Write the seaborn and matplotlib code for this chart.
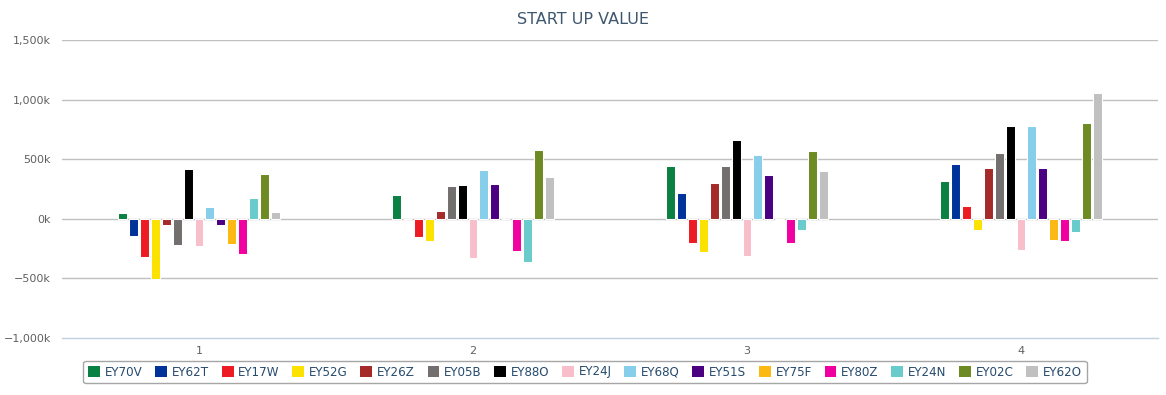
import matplotlib
matplotlib.use("Agg")
import matplotlib.pyplot as plt
import matplotlib.ticker as mticker
from matplotlib.patches import Patch
import seaborn as sns
import pandas as pd

categories = ["1", "2", "3", "4"]
series = ["EY70V", "EY62T", "EY17W", "EY52G", "EY26Z", "EY05B", "EY88O", "EY24J",
          "EY68Q", "EY51S", "EY75F", "EY80Z", "EY24N", "EY02C", "EY62O"]
colors = ["#0B8043", "#00339A", "#ED1C24", "#FBE200", "#A52A2A", "#736F6E", "#000000",
          "#F8BFCB", "#87CEEB", "#4B0082", "#FDB913", "#F000A0", "#69CBCB", "#6E8B23",
          "#C0C0C0"]

# values in thousands
EY70V = [50, 201, 444, 318]
EY62T = [-142, 0, 218, 461]
EY17W = [-317, -151, -201, 109]
EY52G = [-506, -184, -276, -92]
EY26Z = [-50, 67, 301, 427]
EY05B = [-217, 276, 444, 553]
EY88O = [417, 285, 662, 779]
EY24J = [-225, -327, -310, -258]
EY68Q = [100, 410, 536, 779]
EY51S = [-50, 293, 369, 427]
EY75F = [-208, 0, -10, -175]
EY80Z = [-292, -268, -201, -183]
EY24N = [175, -360, -92, -108]
EY02C = [375, 578, 570, 804]
EY62O = [58, 352, 402, 1056]

values = [EY70V, EY62T, EY17W, EY52G, EY26Z, EY05B, EY88O, EY24J,
          EY68Q, EY51S, EY75F, EY80Z, EY24N, EY02C, EY62O]

rows = []
for name, vals in zip(series, values):
    for c, v in zip(categories, vals):
        rows.append({"cat": c, "series": name, "value": v})
df = pd.DataFrame(rows)

sns.set_style("white")
plt.rcParams["font.family"] = ["DejaVu Sans"]

fig = plt.figure(figsize=(11.66, 3.95), dpi=100)
ax = fig.add_axes([62 / 1166, 1 - 338 / 395, (1158 - 62) / 1166, (338 - 40) / 395])

sns.barplot(data=df, x="cat", y="value", hue="series", order=categories,
            hue_order=series, palette=colors, saturation=1, width=0.6, gap=0.18,
            edgecolor="white", linewidth=0.75, legend=False, ax=ax, zorder=3)

ax.set_xlim(-0.5, 3.5)
ax.set_ylim(-1000, 1500)
ax.set_yticks([-1000, -500, 0, 500, 1000, 1500])
ax.yaxis.set_major_formatter(mticker.FuncFormatter(
    lambda v, p: ("\u2212" if v < 0 else "") + f"{abs(int(v)):,}k"))
for y in [-500, 0, 500, 1000, 1500]:
    ax.axhline(y, color="#C0C0C0", linewidth=1.0, zorder=1)

for s in ["top", "right", "left"]:
    ax.spines[s].set_visible(False)
ax.spines["bottom"].set_color("#C0D0E0")
ax.spines["bottom"].set_linewidth(1.0)

ax.set_xticks(range(4))
ax.set_xticklabels(categories)
ax.set_xticks([-0.5, 0.5, 1.5, 2.5, 3.5], minor=True)
ax.tick_params(axis="x", which="major", length=0, pad=6, labelsize=8, colors="#606060")
ax.tick_params(axis="x", which="minor", length=5, width=1, color="#C0D0E0")
ax.tick_params(axis="y", length=0, pad=8, labelsize=8, colors="#606060")
ax.set_xlabel("")
ax.set_ylabel("")

fig.text(0.5, 1 - 19 / 395, "START UP VALUE", ha="center", va="center",
         fontsize=11.5, color="#3E576F")

handles = [Patch(facecolor=c, edgecolor="none") for c in colors]
leg = fig.legend(handles, series, loc="center", bbox_to_anchor=(585 / 1166, 1 - 372 / 395),
                 ncol=15, frameon=True, fancybox=True, fontsize=8.6,
                 handlelength=1.0, handleheight=1.0, handletextpad=0.4,
                 columnspacing=1.05, borderpad=0.4, labelcolor="#274B6D")
leg.get_frame().set_edgecolor("#909090")
leg.get_frame().set_linewidth(1.0)

fig.savefig("out.png", dpi=100, facecolor="white")
